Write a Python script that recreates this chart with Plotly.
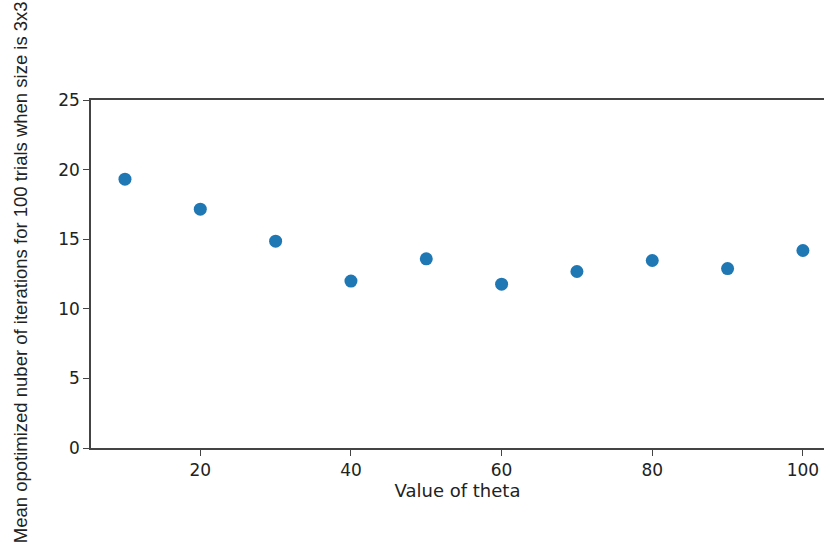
import plotly.graph_objects as go

theta = [10, 20, 30, 40, 50, 60, 70, 80, 90, 100]
mean_iters = [19.31, 17.16, 14.86, 11.99, 13.59, 11.77, 12.68, 13.47, 12.89, 14.19]
x_ticks = [20, 40, 60, 80, 100]
y_ticks = [0, 5, 10, 15, 20, 25]

fig = go.Figure()
fig.add_trace(go.Scatter(
    x=theta, y=mean_iters, mode="markers",
    marker=dict(color="#1f77b4", size=13, line=dict(width=0)),
    showlegend=False,
))

axis_font = dict(family="DejaVu Sans", size=17, color="#222")
fig.update_layout(
    width=824, height=545,
    margin=dict(l=91, r=0, t=100, b=97),
    paper_bgcolor="white", plot_bgcolor="white",
    xaxis=dict(
        range=[5.49, 102.8], tickmode="array", tickvals=x_ticks,
        showgrid=False, zeroline=False, showline=True, linecolor="#444", linewidth=1.5,
        mirror=True, ticks="outside", ticklen=6, tickcolor="#444", tickwidth=1.2,
        tickfont=axis_font,
        title=dict(text="Value of theta", font=dict(family="DejaVu Sans", size=18, color="#222"), standoff=4),
    ),
    yaxis=dict(
        range=[0, 25], tickmode="array", tickvals=y_ticks,
        showgrid=False, zeroline=False, showline=True, linecolor="#444", linewidth=1.5,
        ticks="outside", ticklen=6, tickcolor="#444", tickwidth=1.2,
        tickfont=axis_font,
    ),
    annotations=[dict(
        text="Mean opotimized nuber of iterations for 100 trials when size is 3x3",
        xref="paper", yref="paper", x=(20 - 91) / 733, y=0.505,
        xanchor="center", yanchor="middle", textangle=-90, showarrow=False,
        font=dict(family="Liberation Sans", size=18.5, color="#222"),
    )],
)

fig.write_html("out.html")
